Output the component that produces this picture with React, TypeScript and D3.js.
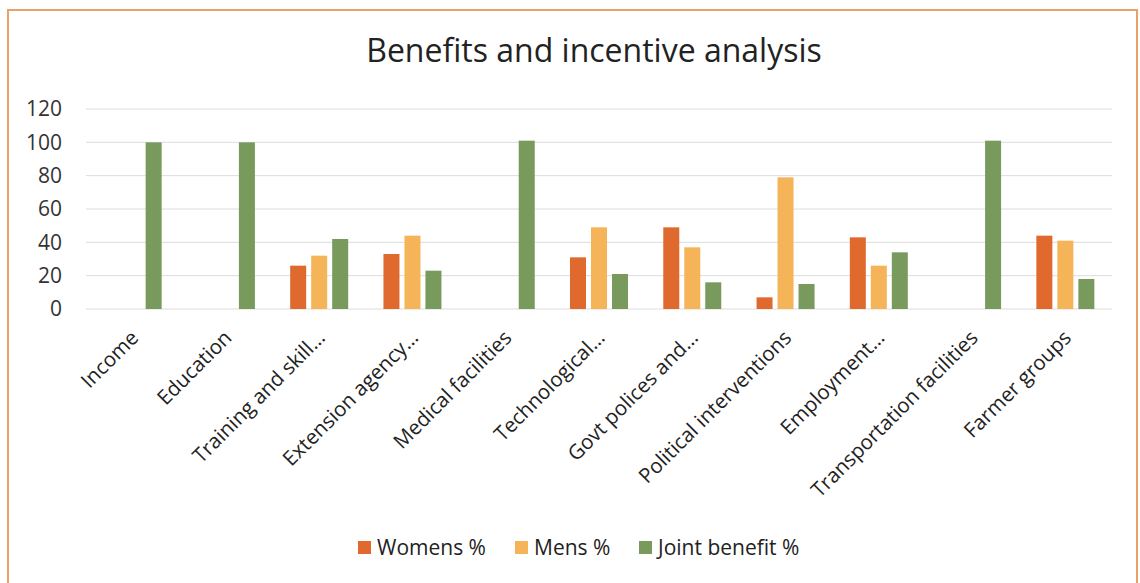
import React from "react";
import * as d3 from "d3";

const categories = [
  "Income",
  "Education",
  "Training and skill…",
  "Extension agency…",
  "Medical facilities",
  "Technological…",
  "Govt polices and…",
  "Political interventions",
  "Employment…",
  "Transportation facilities",
  "Farmer groups",
];
const seriesNames = ["Womens %", "Mens %", "Joint benefit %"];
const womens = [0, 0, 26, 33, 0, 31, 49, 7, 43, 0, 44];
const mens = [0, 0, 32, 44, 0, 49, 37, 79, 26, 0, 41];
const joint = [100, 100, 42, 23, 101, 21, 16, 15, 34, 101, 18];
const yTicks = [0, 20, 40, 60, 80, 100, 120];
const colors = ["#E06A2E", "#F5B457", "#789A5C"];

const W = 1140;
const H = 583;
const FONT = "'Open Sans', 'Liberation Sans', sans-serif";

export default function App() {
  const seriesValues = [womens, mens, joint];
  const x0 = d3.scaleBand<string>().domain(categories).range([86, 1112]).paddingInner(0).paddingOuter(0);
  const x1 = d3.scaleBand<string>().domain(seriesNames).range([-29, 29]).paddingInner(0.238).paddingOuter(0);
  const y = d3.scaleLinear().domain([0, 120]).range([309, 109]);

  const legendX = [358, 515, 639];

  return (
    <svg width={W} height={H} style={{ position: "absolute", left: 0, top: 0, background: "#fff" }}>
      <rect x={0} y={0} width={W} height={H} fill="#fff" />
      <rect x={8} y={10} width={1129} height={H + 10} fill="none" stroke="#E9A06A" strokeWidth={2} />
      <text x={594} y={62} textAnchor="middle" fontFamily={FONT} fontSize={32} fill="#222">
        Benefits and incentive analysis
      </text>
      {yTicks.map((t) => (
        <g key={t}>
          <line x1={86} x2={1112} y1={y(t)} y2={y(t)} stroke="#DCDCDC" strokeWidth={1} />
          <text x={62} y={y(t)} dy="0.35em" textAnchor="end" fontFamily={FONT} fontSize={21} fill="#333">
            {t}
          </text>
        </g>
      ))}
      {categories.map((c, i) => {
        const cx = (x0(c) as number) + x0.bandwidth() / 2;
        return (
          <g key={c}>
            {seriesNames.map((s, j) => {
              const v = seriesValues[j][i];
              if (!v) return null;
              return (
                <rect
                  key={s}
                  x={cx + (x1(s) as number)}
                  y={y(v)}
                  width={x1.bandwidth()}
                  height={y(0) - y(v)}
                  fill={colors[j]}
                />
              );
            })}
            <text
              transform={`translate(${cx + 2},${334}) rotate(-45)`}
              textAnchor="end"
              dy="0.35em"
              fontFamily={FONT}
              fontSize={20.5}
              fill="#222"
            >
              {c}
            </text>
          </g>
        );
      })}
      {seriesNames.map((s, j) => (
        <g key={s}>
          <rect x={legendX[j]} y={541} width={13} height={13} fill={colors[j]} />
          <text x={legendX[j] + 19} y={547.5} dy="0.35em" fontFamily={FONT} fontSize={21} fill="#222">
            {s}
          </text>
        </g>
      ))}
    </svg>
  );
}
